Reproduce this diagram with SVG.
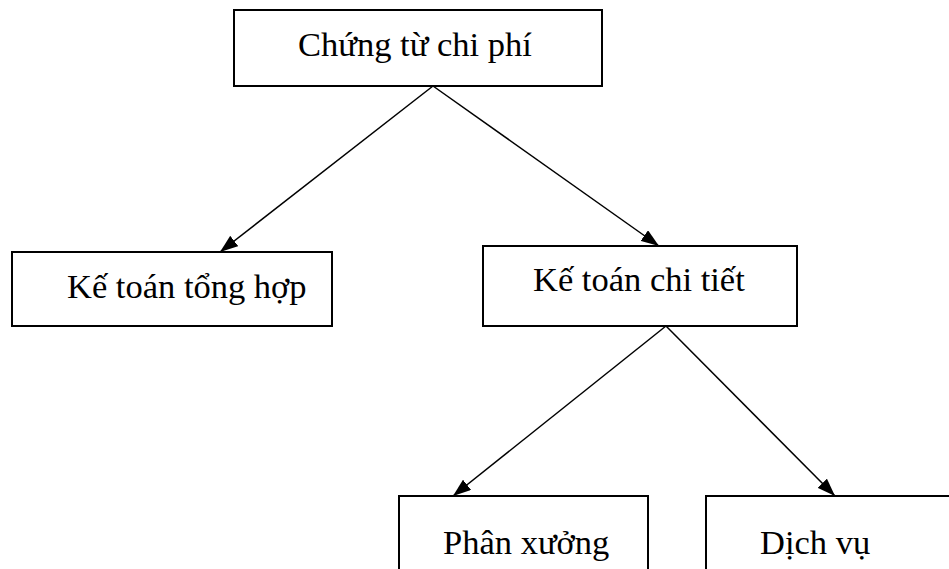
<svg xmlns="http://www.w3.org/2000/svg" width="949" height="569" viewBox="0 0 949 569">
<style>
.box{fill:#fff;stroke:#000;stroke-width:2}
.lbl{font-family:"Liberation Serif","Times New Roman",serif;font-size:34.5px;fill:#000}
.conn{stroke:#000;stroke-width:1.5;fill:none}
</style>
<defs>
<marker id="arr" viewBox="0 0 18 13" refX="18" refY="6.5" markerWidth="18" markerHeight="13" markerUnits="userSpaceOnUse" orient="auto">
<path d="M0,0 L18,6.5 L0,13 z" fill="#000"/>
</marker>
</defs>
<rect width="949" height="569" fill="#fff"/>
<g id="n-chungtu">
<rect class="box" x="234" y="10" width="368" height="76"/>
<text class="lbl" x="298" y="56">Chứng từ chi phí</text>
</g>
<g id="n-tonghop">
<rect class="box" x="12" y="252" width="320" height="74"/>
<text class="lbl" x="67" y="298">Kế toán tổng hợp</text>
</g>
<g id="n-chitiet">
<rect class="box" x="483" y="246" width="314" height="80"/>
<text class="lbl" x="533" y="291">Kế toán chi tiết</text>
</g>
<g id="n-phanxuong">
<rect class="box" x="399" y="496" width="249" height="80"/>
<text class="lbl" x="443" y="554">Phân xưởng</text>
</g>
<g id="n-dichvu">
<rect class="box" x="706" y="496" width="260" height="80"/>
<text class="lbl" x="760" y="554">Dịch vụ</text>
</g>
<g id="connectors">
<line class="conn" x1="433" y1="86" x2="220" y2="252" marker-end="url(#arr)"/>
<line class="conn" x1="433" y1="86" x2="659" y2="246" marker-end="url(#arr)"/>
<line class="conn" x1="666" y1="326" x2="453" y2="496" marker-end="url(#arr)"/>
<line class="conn" x1="666" y1="326" x2="835" y2="496" marker-end="url(#arr)"/>
</g>
</svg>
